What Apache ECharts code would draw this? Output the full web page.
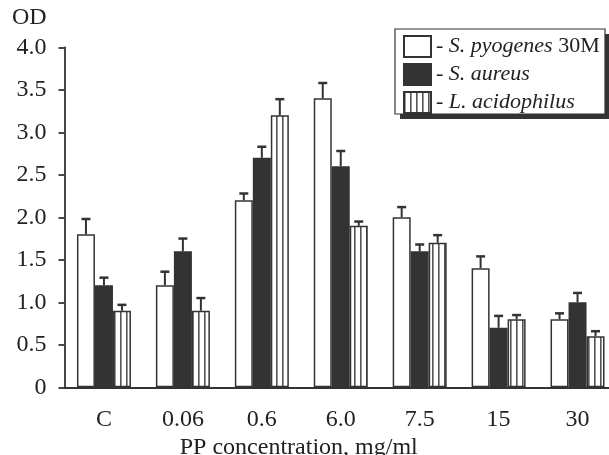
<!DOCTYPE html>
<html><head><meta charset="utf-8">
<script src="https://cdn.jsdelivr.net/npm/echarts@6/dist/echarts.min.js"></script>
<style>html,body{margin:0;padding:0;background:#fff}#c{width:609px;height:455px}</style>
</head><body><div id="c"></div>
<script>
const categories = ['C', '0.06', '0.6', '6.0', '7.5', '15', '30'];
const seriesNames = ['S. pyogenes 30M', 'S. aureus', 'L. acidophilus'];
const pyogenes = [1.8, 1.2, 2.2, 3.4, 2.0, 1.4, 0.8];
const pyogenesErr = [0.18, 0.16, 0.08, 0.18, 0.12, 0.14, 0.07];
const aureus = [1.2, 1.6, 2.7, 2.6, 1.6, 0.7, 1.0];
const aureusErr = [0.09, 0.15, 0.13, 0.18, 0.08, 0.14, 0.11];
const acidophilus = [0.9, 0.9, 3.2, 1.9, 1.7, 0.8, 0.6];
const acidophilusErr = [0.07, 0.15, 0.19, 0.05, 0.09, 0.05, 0.06];
const yTicks = [0, 0.5, 1.0, 1.5, 2.0, 2.5, 3.0, 3.5, 4.0];

const DARK = '#333';
const TXT = '#222';
const FONT = 'Liberation Serif';
const BW = 18;

const pc = document.createElement('canvas');
pc.width = 6; pc.height = 6;
const pctx = pc.getContext('2d');
pctx.fillStyle = '#fff'; pctx.fillRect(0, 0, 6, 6);
pctx.fillStyle = '#555'; pctx.fillRect(0, 0, 1.6, 6);
const stripe = { image: pc, repeat: 'repeat' };

const chart = echarts.init(document.getElementById('c'), null, { renderer: 'canvas' });

function errSeries(vals, errs, offset) {
  return {
    type: 'custom',
    silent: true,
    z: 5,
    data: vals.map((v, i) => [i, v, v + errs[i]]),
    renderItem: function (params, api) {
      const i = api.value(0);
      const p0 = api.coord([i, api.value(1)]);
      const p1 = api.coord([i, api.value(2)]);
      const x = p0[0] + offset;
      return {
        type: 'group',
        children: [
          { type: 'line', shape: { x1: x, y1: p0[1], x2: x, y2: p1[1] }, style: { stroke: DARK, lineWidth: 2 } },
          { type: 'line', shape: { x1: x - 4.5, y1: p1[1], x2: x + 4.5, y2: p1[1] }, style: { stroke: DARK, lineWidth: 2.5 } }
        ]
      };
    }
  };
}

const option = {
  animation: false,
  backgroundColor: '#fff',
  textStyle: { fontFamily: FONT },
  grid: { left: 64.5, right: -8, top: 47.3, bottom: 67.7, containLabel: false, outerBoundsMode: 'none' },
  graphic: [
    { type: 'text', left: 12, top: 6, style: { text: 'OD', font: '24px "Liberation Serif"', fill: TXT } },
    { type: 'rect', z: 1, shape: { x: 400, y: 34, width: 210, height: 85 }, style: { fill: DARK } },
    { type: 'rect', z: 2, shape: { x: 395, y: 29, width: 210, height: 85 }, style: { fill: '#fff', stroke: DARK, lineWidth: 1.2 } }
  ],
  legend: {
    orient: 'vertical',
    left: 395, top: 29,
    padding: [6, 4, 6, 8],
    itemWidth: 27, itemHeight: 21, itemGap: 5,
    icon: 'rect',
    z: 10,
    data: seriesNames,
    formatter: function (n) {
      const m = n.match(/^(.*?)( 30M)?$/);
      return '- {i|' + m[1] + '}' + (m[2] || '');
    },
    textStyle: {
      fontFamily: FONT, fontSize: 22, color: TXT,
      rich: { i: { fontFamily: FONT, fontSize: 22, fontStyle: 'italic', color: TXT } }
    }
  },
  xAxis: {
    type: 'category',
    data: categories,
    name: 'PP concentration, mg/ml',
    nameLocation: 'middle',
    nameGap: 42,
    nameTextStyle: { fontFamily: FONT, fontSize: 24, color: TXT, padding: [0, 84, 0, 0] },
    axisLine: { lineStyle: { color: DARK, width: 1.8 } },
    axisTick: { show: false },
    axisLabel: { fontFamily: FONT, fontSize: 24, color: TXT, margin: 20 },
    splitLine: { show: false }
  },
  yAxis: {
    type: 'value',
    min: yTicks[0], max: yTicks[yTicks.length - 1], interval: 0.5,
    axisLine: { show: true, lineStyle: { color: DARK, width: 1.8 } },
    axisTick: { show: true, length: 6, lineStyle: { color: DARK, width: 1.8 } },
    axisLabel: {
      fontFamily: FONT, fontSize: 24, color: TXT, margin: 18,
      formatter: v => (v === 0 ? '0' : v.toFixed(1))
    },
    splitLine: { show: false }
  },
  series: [
    { name: seriesNames[0], type: 'bar', data: pyogenes, barWidth: BW, barGap: '0%',
      itemStyle: { color: '#fff', borderColor: DARK, borderWidth: 1.5 } },
    { name: seriesNames[1], type: 'bar', data: aureus, barWidth: BW, barGap: '0%',
      itemStyle: { color: DARK, borderColor: DARK, borderWidth: 1.5 } },
    { name: seriesNames[2], type: 'bar', data: acidophilus, barWidth: BW, barGap: '0%',
      itemStyle: { color: stripe, borderColor: DARK, borderWidth: 1.5 } },
    errSeries(pyogenes, pyogenesErr, -BW),
    errSeries(aureus, aureusErr, 0),
    errSeries(acidophilus, acidophilusErr, BW)
  ]
};
chart.setOption(option);
</script>
</body></html>
